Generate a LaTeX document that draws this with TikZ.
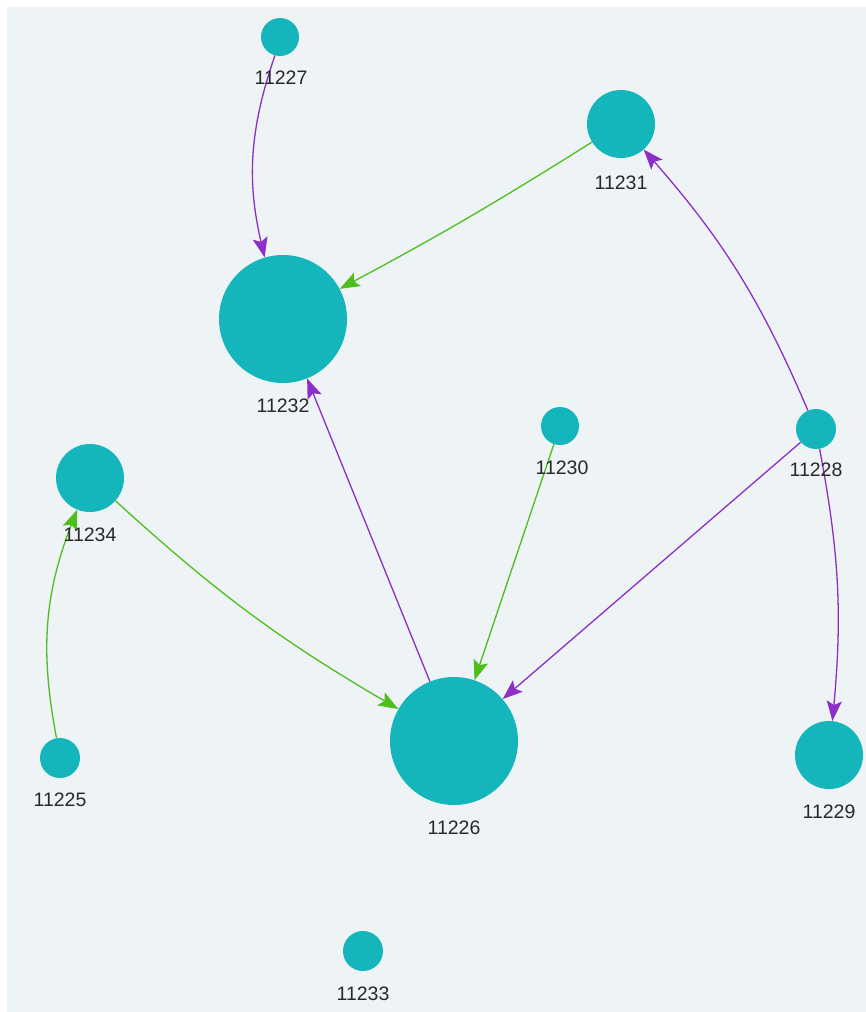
\documentclass[tikz,border=0pt]{standalone}
\usepackage{fontspec}
\setmainfont{Liberation Sans}
\usetikzlibrary{arrows.meta}
\definecolor{bgc}{RGB}{238,243,246}
\definecolor{teal}{RGB}{21,181,188}
\definecolor{purp}{RGB}{139,47,200}
\definecolor{grn}{RGB}{78,190,30}
\definecolor{txt}{RGB}{40,40,40}
\tikzset{
  vert/.style={circle,fill=teal,inner sep=0pt,minimum size=#1},
  lbl/.style={text=txt,font=\fontsize{19.5}{21}\selectfont,inner sep=0pt},
  link/.style={line width=1.3pt,-{Stealth[length=20pt,width=15pt,inset=4pt]}},
  pl/.style={link,draw=purp},
  gl/.style={link,draw=grn}
}
\begin{document}
\begin{tikzpicture}[x=1pt,y=-1pt]
\useasboundingbox (0,0) rectangle (866,1012);
\fill[bgc] (7,7) rectangle (866,1012);
% nodes
\node[vert=38pt] (n27) at (280,37) {};
\node[vert=68pt] (n31) at (621,124) {};
\node[vert=128pt] (n32) at (283,319) {};
\node[vert=38pt] (n30) at (560,426) {};
\node[vert=40pt] (n28) at (816,429) {};
\node[vert=68pt] (n34) at (90,478) {};
\node[vert=40pt] (n25) at (60,758) {};
\node[vert=128pt] (n26) at (454,741) {};
\node[vert=68pt] (n29) at (829,755) {};
\node[vert=40pt] (n33) at (363,951) {};
% edges
\draw[pl] (n27) to[bend right=16] (n32);
\draw[gl] (n31) to[bend left=2] (n32);
\draw[pl] (n28) to[bend right=9] (n31);
\draw[pl] (n28) to (n26);
\draw[pl] (n28) to[bend left=8] (n29);
\draw[gl] (n30) to (n26);
\draw[pl] (n26) to (n32);
\draw[gl] (n34) to[bend right=6] (n26);
\draw[gl] (n25) to[bend left=16] (n34);
% labels
\node[lbl] (l27) at (281,78) {11227};
\node[lbl] (l31) at (621,183) {11231};
\node[lbl] (l32) at (283,406) {11232};
\node[lbl] (l30) at (562,468) {11230};
\node[lbl] (l28) at (816,470) {11228};
\node[lbl] (l34) at (90,535) {11234};
\node[lbl] (l25) at (60,800) {11225};
\node[lbl] (l26) at (454,828) {11226};
\node[lbl] (l29) at (829,812) {11229};
\node[lbl] (l33) at (363,994) {11233};
\end{tikzpicture}
\end{document}
